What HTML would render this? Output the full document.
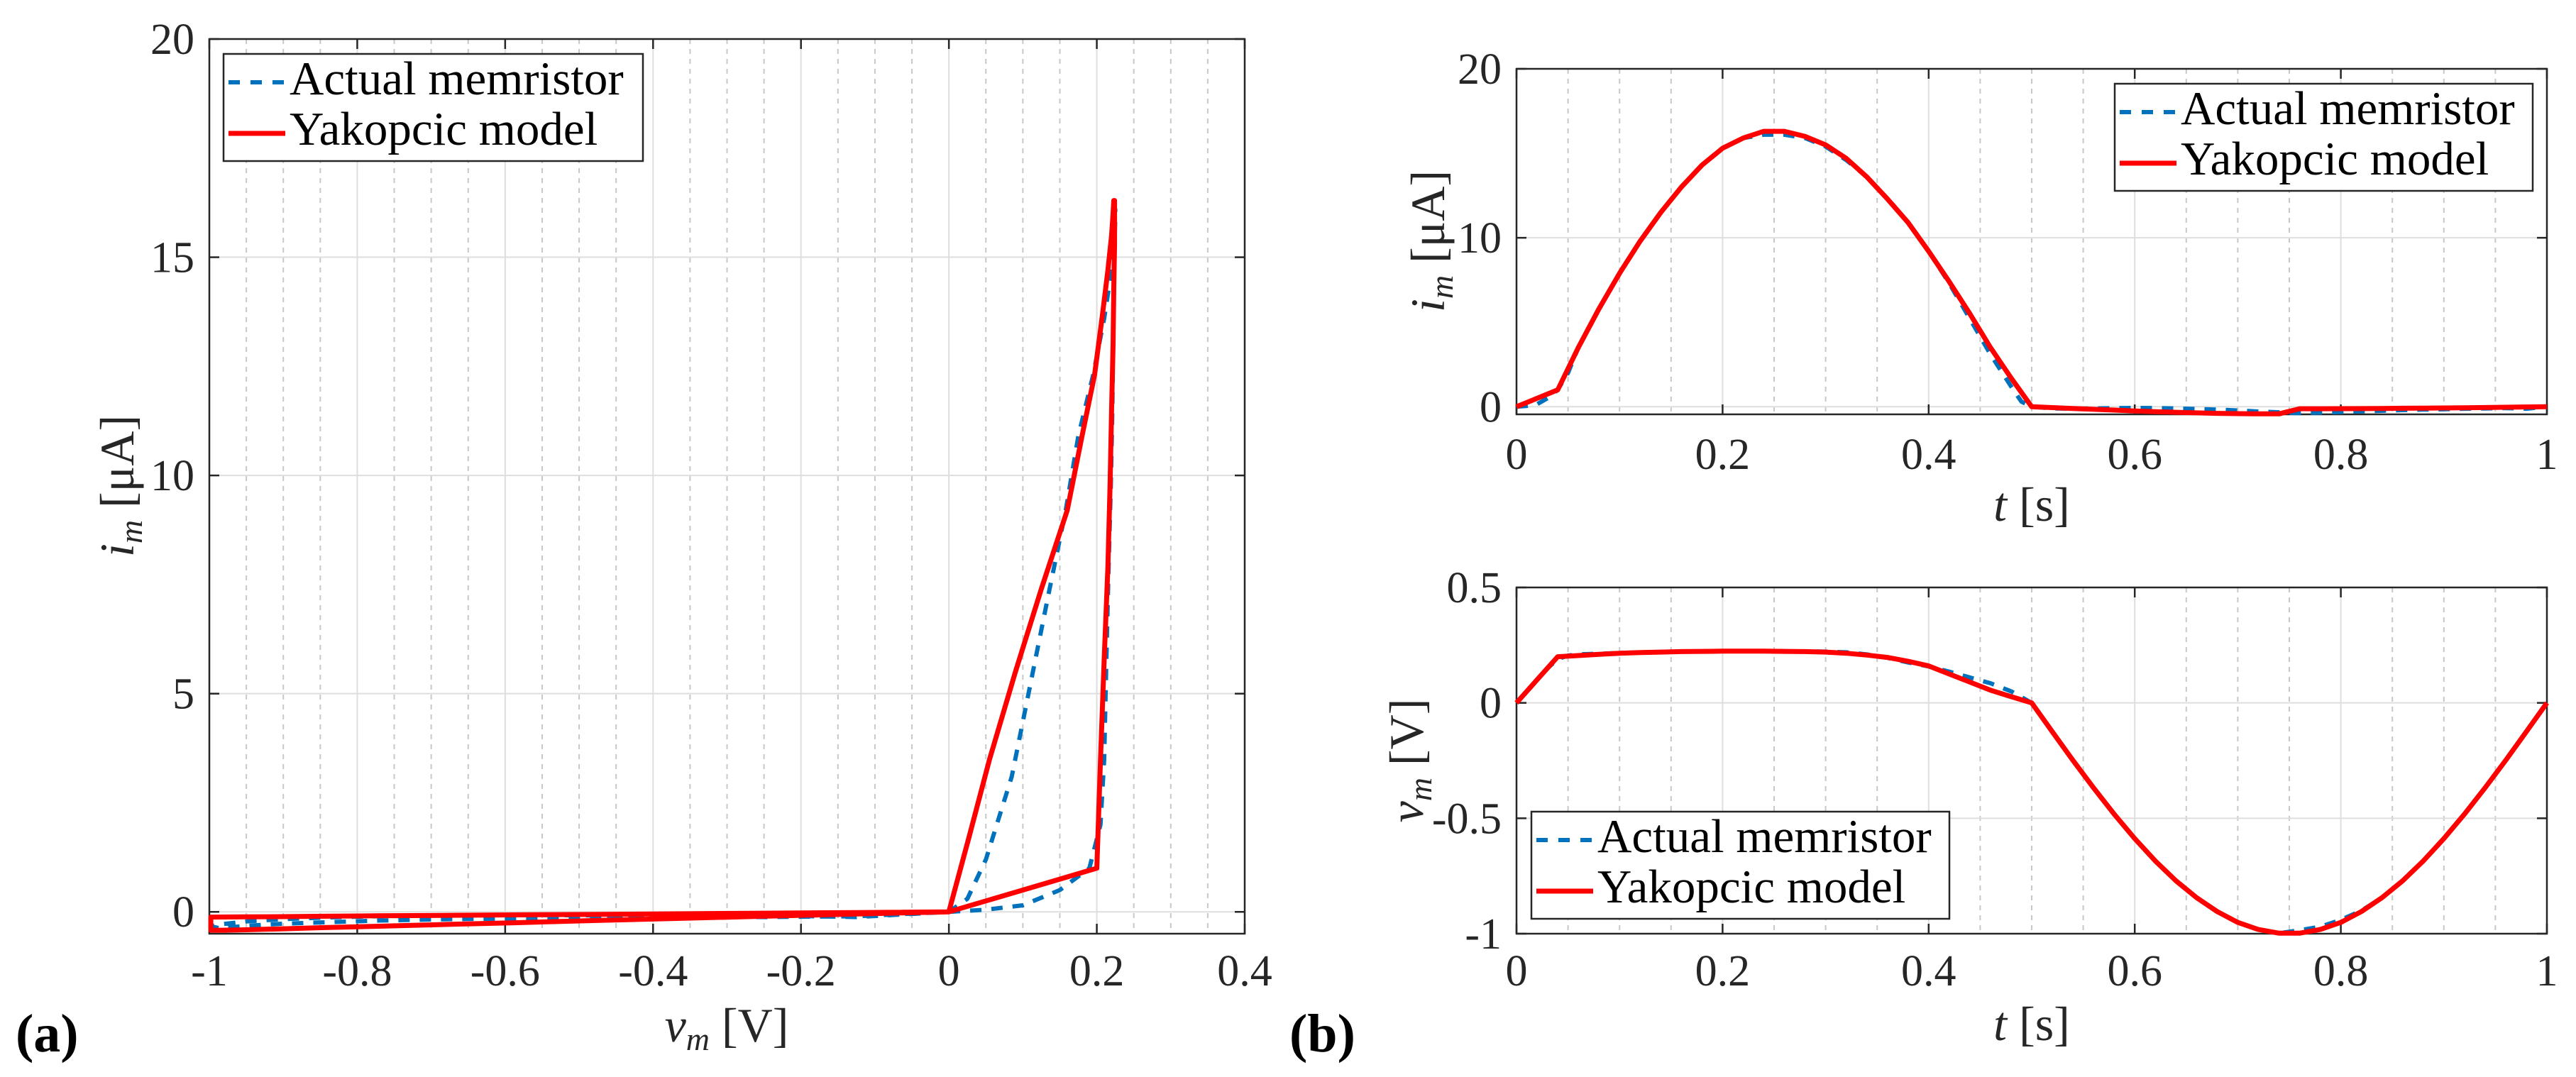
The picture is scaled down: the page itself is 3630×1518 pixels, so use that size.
<!DOCTYPE html>
<html><head><meta charset="utf-8">
<style>
html,body{margin:0;padding:0;background:#fff;}
svg{display:block;font-family:"Liberation Serif",serif;}
</style></head>
<body>
<svg id="fig" width="3630" height="1518" viewBox="0 0 3630 1518" xmlns="http://www.w3.org/2000/svg"></svg>
<script>
// ---- data (model = Yakopcic, actual = measured memristor) ----
const tModel = [0,0.02,0.04,0.06,0.08,0.1,0.12,0.14,0.16,0.18,0.2,0.22,0.24,0.26,0.28,0.3,0.32,0.34,0.36,0.38,0.4,0.42,0.44,0.46,0.48,0.5,0.52,0.54,0.56,0.58,0.6,0.62,0.64,0.66,0.68,0.7,0.72,0.74,0.76,0.78,0.8,0.82,0.84,0.86,0.88,0.9,0.92,0.94,0.96,0.98,1.0];
const vModel = [0,0.1,0.2,0.205,0.21,0.215,0.218,0.22,0.222,0.223,0.224,0.224,0.224,0.223,0.222,0.22,0.215,0.207,0.197,0.18,0.16,0.125,0.09,0.055,0.027,0,-0.125,-0.249,-0.368,-0.482,-0.588,-0.685,-0.771,-0.844,-0.904,-0.951,-0.982,-0.998,-0.998,-0.982,-0.951,-0.904,-0.844,-0.771,-0.685,-0.588,-0.482,-0.368,-0.249,-0.125,0];
const iModel = [0,0.5,1.0,3.5,5.8,7.9,9.8,11.5,13.0,14.3,15.3,15.9,16.3,16.3,16.0,15.5,14.7,13.6,12.3,10.9,9.2,7.4,5.5,3.5,1.7,0,-0.05,-0.1,-0.15,-0.2,-0.25,-0.29,-0.33,-0.36,-0.39,-0.41,-0.42,-0.42,-0.12,-0.118,-0.114,-0.11,-0.1,-0.09,-0.08,-0.07,-0.06,-0.045,-0.03,-0.015,0];
const tActual = [0,0.01,0.02,0.03,0.04,0.05,0.06,0.08,0.1,0.12,0.14,0.16,0.18,0.2,0.22,0.24,0.26,0.28,0.3,0.32,0.34,0.36,0.38,0.4,0.42,0.44,0.46,0.48,0.49,0.5,0.52,0.54,0.56,0.58,0.6,0.62,0.64,0.66,0.68,0.7,0.72,0.74,0.76,0.78,0.8,0.82,0.84,0.86,0.88,0.9,0.92,0.94,0.96,0.98,1.0];
const vActual = [0,0.05,0.1,0.15,0.19,0.205,0.21,0.213,0.216,0.219,0.221,0.222,0.223,0.224,0.225,0.225,0.224,0.223,0.222,0.219,0.21,0.195,0.175,0.158,0.135,0.11,0.085,0.05,0.025,0,-0.125,-0.249,-0.368,-0.482,-0.588,-0.685,-0.771,-0.844,-0.904,-0.951,-0.982,-0.998,-0.985,-0.97,-0.94,-0.9,-0.844,-0.771,-0.685,-0.588,-0.482,-0.368,-0.249,-0.125,0];
const iActual = [0,0.05,0.15,0.5,1.0,2.0,3.5,5.8,7.9,9.8,11.5,13.0,14.3,15.3,15.9,16.1,16.1,15.9,15.4,14.6,13.6,12.3,10.9,9.2,7.3,5.2,3.1,1.2,0.3,0,-0.1,-0.12,-0.1,-0.08,-0.07,-0.08,-0.1,-0.13,-0.17,-0.22,-0.28,-0.33,-0.38,-0.35,-0.31,-0.27,-0.24,-0.2,-0.17,-0.15,-0.12,-0.1,-0.08,-0.12,0];
const xTicksA = [-1,-0.8,-0.6,-0.4,-0.2,0,0.2,0.4];
const yTicksA = [0,5,10,15,20];
const tTicks = [0,0.2,0.4,0.6,0.8,1];
const iTicksB = [0,10,20];
const vTicksB = [-1,-0.5,0,0.5];

const NS = "http://www.w3.org/2000/svg";
const svg = document.getElementById('fig');
function el(tag, attrs, parent){ const e=document.createElementNS(NS,tag); for(const k in attrs) e.setAttribute(k,attrs[k]); (parent||svg).appendChild(e); return e; }
function fmt(v){ return String(v).replace(/^-?0\./, m=> m); }

function makeAxes(o){
  const g = el('g',{});
  
  
  const sx = v => o.x0 + (v - o.xmin)/(o.xmax-o.xmin)*(o.x1-o.x0);
  const sy = v => o.y1 - (v - o.ymin)/(o.ymax-o.ymin)*(o.y1-o.y0);
  // minor x grid
  for(let v=o.xmin; v<=o.xmax+1e-9; v+=o.xminor){
    const rv=Math.round(v*1000)/1000;
    if(o.xticks.some(t=>Math.abs(t-rv)<1e-6)) continue;
    const l=el('line',{x1:sx(rv),x2:sx(rv),y1:o.y0,y2:o.y1,stroke:'#c8c8c8','stroke-width':2,'stroke-dasharray':'7,7'},g);
    
    
  }
  o.xticks.forEach(v=>{ const l=el('line',{x1:sx(v),x2:sx(v),y1:o.y0,y2:o.y1,stroke:'#dedede','stroke-width':2},g);
      });
  o.yticks.forEach(v=>{ const l=el('line',{x1:o.x0,x2:o.x1,y1:sy(v),y2:sy(v),stroke:'#dedede','stroke-width':2},g);
      });
  // ticks
  o.xticks.forEach(v=>{
    el('line',{x1:sx(v),x2:sx(v),y1:o.y1,y2:o.y1-14,stroke:'#262626','stroke-width':2.5},g);
    el('line',{x1:sx(v),x2:sx(v),y1:o.y0,y2:o.y0+14,stroke:'#262626','stroke-width':2.5},g);
    const t=el('text',{x:sx(v),y:o.xlabY,'font-size':62,fill:'#262626','text-anchor':'middle'},g);
    t.textContent=String(v);
     
  });
  o.yticks.forEach(v=>{
    el('line',{x1:o.x0,x2:o.x0+14,y1:sy(v),y2:sy(v),stroke:'#262626','stroke-width':2.5},g);
    el('line',{x1:o.x1,x2:o.x1-14,y1:sy(v),y2:sy(v),stroke:'#262626','stroke-width':2.5},g);
    const t=el('text',{x:o.x0-21,y:sy(v)+21,'font-size':62,fill:'#262626','text-anchor':'end'},g);
    t.textContent=String(v);
     
  });
  const box=el('rect',{x:o.x0,y:o.y0,width:o.x1-o.x0,height:o.y1-o.y0,fill:'none',stroke:'#262626','stroke-width':2.5},g);
   
  return {g,sx,sy};
}
function series(ax, xs, ys, color, dashed, name){
  let d='';
  for(let k=0;k<xs.length;k++) d += (k?'L':'M') + ax.sx(xs[k]).toFixed(1) + ',' + ax.sy(ys[k]).toFixed(1);
  const p=el('path',{d:d,fill:'none',stroke:color,'stroke-width':dashed?6:7,'stroke-linejoin':'round','stroke-dasharray':dashed?'16,14':'none'},ax.g);
  
  
}
function legend(x,y,w,name){
  const g=el('g',{});
  
  
  el('rect',{x:x,y:y,width:w,height:151,fill:'#fff',stroke:'#262626','stroke-width':2.5},g);
  el('line',{x1:x+7,x2:x+87,y1:y+40,y2:y+40,stroke:'#0072bd','stroke-width':6,'stroke-dasharray':'16,15'},g);
  el('line',{x1:x+7,x2:x+87,y1:y+112,y2:y+112,stroke:'#ff0000','stroke-width':7},g);
  const t1=el('text',{x:x+93,y:y+57,'font-size':67,fill:'#000'},g); t1.textContent='Actual memristor';
   
  const t2=el('text',{x:x+93,y:y+128,'font-size':67,fill:'#000'},g); t2.textContent='Yakopcic model';
   
}
function label(x,y,html,rot,name){
  const t=el('text',{x:x,y:y,'font-size':68,fill:'#262626','text-anchor':'middle',transform:rot?`rotate(-90 ${x} ${y})`:''});
  t.innerHTML=html;
  
  
}

// (a) I-V
const axA = makeAxes({name:'iv-plot',x0:295,x1:1754,y0:55,y1:1316,xmin:-1,xmax:0.4,ymin:-0.5,ymax:20,xticks:xTicksA,yticks:yTicksA,xminor:0.05,xlabY:1389});
series(axA, vActual, iActual, '#0072bd', true, 'iv-actual-memristor-line');
series(axA, vModel, iModel, '#ff0000', false, 'iv-yakopcic-model-line');
legend(315,76,591,'legend-iv');

// (b) top i(t)
const axB1 = makeAxes({name:'current-time-plot',x0:2137,x1:3589,y0:97,y1:584,xmin:0,xmax:1,ymin:-0.45,ymax:20,xticks:tTicks,yticks:iTicksB,xminor:0.05,xlabY:661});
series(axB1, tActual, iActual, '#0072bd', true, 'current-actual-line');
series(axB1, tModel, iModel, '#ff0000', false, 'current-model-line');
legend(2980,118,589,'legend-current');

// (b) bottom v(t)
const axB2 = makeAxes({name:'voltage-time-plot',x0:2137,x1:3589,y0:828,y1:1316,xmin:0,xmax:1,ymin:-1,ymax:0.5,xticks:tTicks,yticks:vTicksB,xminor:0.05,xlabY:1389});
series(axB2, tActual, vActual, '#0072bd', true, 'voltage-actual-line');
series(axB2, tModel, vModel, '#ff0000', false, 'voltage-model-line');
legend(2158,1144,589,'legend-voltage');

// axis labels
label(1024,1468,'<tspan font-style="italic">v</tspan><tspan font-style="italic" font-size="46" dy="12">m</tspan><tspan dy="-12">  [V]</tspan>',false,'x-axis-title-iv');
label(188,685,'<tspan font-style="italic">i</tspan><tspan font-style="italic" font-size="46" dy="12">m</tspan><tspan dy="-12">  [μA]</tspan>',true,'y-axis-title-iv');
label(2863,734,'<tspan font-style="italic">t</tspan> [s]',false,'x-axis-title-current');
label(2035,340,'<tspan font-style="italic">i</tspan><tspan font-style="italic" font-size="46" dy="12">m</tspan><tspan dy="-12">  [μA]</tspan>',true,'y-axis-title-current');
label(2863,1466,'<tspan font-style="italic">t</tspan> [s]',false,'x-axis-title-voltage');
label(2005,1072,'<tspan font-style="italic">v</tspan><tspan font-style="italic" font-size="46" dy="12">m</tspan><tspan dy="-12">  [V]</tspan>',true,'y-axis-title-voltage');

// panel letters
const pa=el('text',{x:22,y:1482,'font-size':76,'font-weight':'bold',fill:'#000'}); pa.textContent='(a)';
 
const pb=el('text',{x:1817,y:1482,'font-size':76,'font-weight':'bold',fill:'#000'}); pb.textContent='(b)';
 
</script>
</body></html>
